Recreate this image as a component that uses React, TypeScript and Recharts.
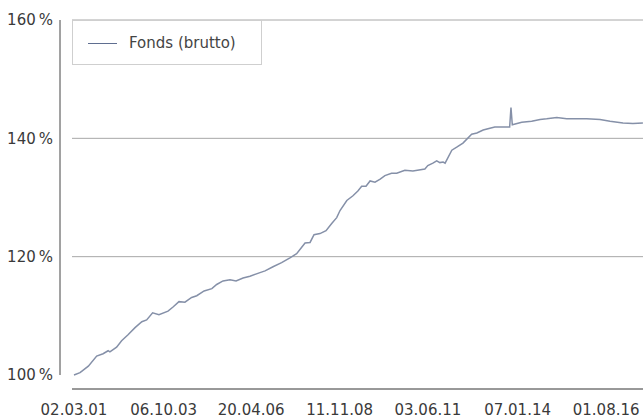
import React from 'react';
import { LineChart, Line, XAxis, YAxis, ReferenceLine, Legend } from 'recharts';

const seriesName = 'Fonds (brutto)';

const dates: string[] = [
  '2001-03-02', '2001-05-05', '2001-08-01', '2001-10-28', '2002-01-04', '2002-02-26', '2002-03-17',
  '2002-05-27', '2002-07-19', '2002-09-25', '2002-12-08', '2003-02-18', '2003-04-10', '2003-06-12',
  '2003-08-18', '2003-11-22', '2004-01-14', '2004-03-17', '2004-05-19', '2004-07-29', '2004-09-21',
  '2004-12-08', '2005-02-28', '2005-04-20', '2005-06-26', '2005-09-08', '2005-11-11', '2006-01-24',
  '2006-04-07', '2006-07-22', '2006-09-14', '2006-12-07', '2007-03-08', '2007-06-04', '2007-08-14',
  '2007-11-11', '2008-01-03', '2008-02-14', '2008-04-17', '2008-06-20', '2008-08-19', '2008-10-11',
  '2008-11-15', '2009-01-26', '2009-04-01', '2009-05-23', '2009-07-02', '2009-08-17', '2009-09-29',
  '2009-11-20', '2010-01-14', '2010-03-05', '2010-05-14', '2010-07-08', '2010-10-02', '2010-12-26',
  '2011-05-02', '2011-06-02', '2011-07-26', '2011-09-04', '2011-10-08', '2011-11-11', '2011-12-02',
  '2012-02-11', '2012-04-03', '2012-06-08', '2012-09-08', '2012-11-02', '2013-01-08', '2013-03-20',
  '2013-05-11', '2013-10-15', '2013-10-29', '2013-11-12', '2014-02-20', '2014-06-05', '2014-09-02',
  '2014-11-11', '2015-02-26', '2015-06-11', '2016-01-08', '2016-05-28', '2016-09-11', '2017-01-26',
  '2017-05-11', '2017-08-25',
];

const fondsValues: number[] = [
  100.0, 100.4, 101.5, 103.2, 103.6, 104.1, 103.9,
  104.7, 105.8, 106.8, 108.0, 109.0, 109.3, 110.5,
  110.2, 110.8, 111.5, 112.4, 112.3, 113.1, 113.4,
  114.2, 114.6, 115.3, 115.9, 116.1, 115.9, 116.4,
  116.7, 117.3, 117.6, 118.3, 119.0, 119.8, 120.5,
  122.3, 122.4, 123.7, 123.9, 124.4, 125.6, 126.6,
  127.8, 129.5, 130.3, 131.1, 131.9, 131.9, 132.8,
  132.6, 133.1, 133.7, 134.1, 134.1, 134.6, 134.5,
  134.8, 135.4, 135.8, 136.2, 135.9, 136.0, 135.8,
  138.0, 138.5, 139.2, 140.7, 140.9, 141.4, 141.7,
  141.9, 141.9, 145.2, 142.3, 142.7, 142.9, 143.2,
  143.3, 143.5, 143.3, 143.3, 143.2, 142.9, 142.6,
  142.5, 142.6,
];

const xTickDates: string[] = ['2001-03-02', '2003-10-06', '2006-04-20', '2008-11-11', '2011-06-03', '2014-01-07', '2016-08-01'];
const yTicks: number[] = [100, 120, 140, 160];
const gridValues: number[] = [120, 140, 160];

const DAY = 86400000;
const toMs = (s: string) => Date.parse(s + 'T00:00:00Z');

const data = dates.map((d, i) => ({ t: toMs(d), fonds: fondsValues[i] }));
const xTicks = xTickDates.map(toMs);

const firstT = toMs(dates[0]);
const domainStart = firstT - 21 * DAY;
const domainEnd = firstT + 6021 * DAY;

// plot area geometry
const W = 643;
const H = 418;
const plotLeft = 72;
const plotWidth = W - plotLeft;
// y-axis line sits 12px left of the plot area
const axisLineT = domainStart - (12 / plotWidth) * (domainEnd - domainStart);

const pad = (n: number) => (n < 10 ? '0' + n : '' + n);
const fmtDate = (v: number) => {
  const d = new Date(v);
  return `${pad(d.getUTCDate())}.${pad(d.getUTCMonth() + 1)}.${pad(d.getUTCFullYear() % 100)}`;
};

const FONT = "'DejaVu Sans', sans-serif";
const LINE_COLOR = '#8590a8';

const LegendBox = () => (
  <div
    style={{
      boxSizing: 'border-box',
      width: 190,
      height: 45,
      background: '#fff',
      border: '1px solid #cfcfcf',
      position: 'relative',
      fontFamily: FONT,
      fontSize: 15,
      color: '#444',
    }}
  >
    <div style={{ position: 'absolute', left: 15, top: 22, width: 29, height: 1, background: '#5f6e90' }} />
    <div style={{ position: 'absolute', left: 56, top: 13, lineHeight: '18px', whiteSpace: 'nowrap' }}>{seriesName}</div>
  </div>
);

export default function App() {
  return (
    <div style={{ position: 'absolute', left: 0, top: 0, width: W, height: H, background: '#fff' }}>
      <LineChart width={W} height={H} data={data} margin={{ top: 20, right: 0, bottom: 0, left: 0 }}>
        <XAxis
          dataKey="t"
          type="number"
          scale="linear"
          domain={[domainStart, domainEnd]}
          allowDataOverflow
          ticks={xTicks}
          tickFormatter={fmtDate}
          interval={0}
          height={29}
          tickLine={false}
          tickSize={0}
          tickMargin={15}
          axisLine={{ stroke: '#333', strokeWidth: 1 }}
          tick={{ fontFamily: FONT, fontSize: 15, fill: '#3a3a3a' }}
        />
        <YAxis
          type="number"
          domain={[100, 160]}
          ticks={yTicks}
          interval={0}
          width={plotLeft}
          padding={{ top: 0, bottom: 14 }}
          axisLine={false}
          tickLine={false}
          tickSize={0}
          tickMargin={19}
          tickFormatter={(v: number) => `${v}\u202F%`}
          tick={{ fontFamily: FONT, fontSize: 15, fill: '#3a3a3a' }}
        />
        {gridValues.map((g) => (
          <ReferenceLine key={g} y={g} stroke="#a8a8a8" strokeWidth={1} />
        ))}
        <ReferenceLine
          segment={[{ x: axisLineT, y: 100 }, { x: axisLineT, y: 160 }]}
          stroke="#444"
          strokeWidth={1}
          ifOverflow="visible"
        />
        <Legend
          content={() => <LegendBox />}
          layout="horizontal"
          verticalAlign="middle"
          align="center"
          wrapperStyle={{ position: 'absolute', left: plotLeft, top: 20, width: 190, height: 45, margin: 0 }}
        />
        <Line
          type="linear"
          dataKey="fonds"
          name={seriesName}
          stroke={LINE_COLOR}
          strokeWidth={1.5}
          dot={false}
          activeDot={false}
          isAnimationActive={false}
        />
      </LineChart>
    </div>
  );
}
